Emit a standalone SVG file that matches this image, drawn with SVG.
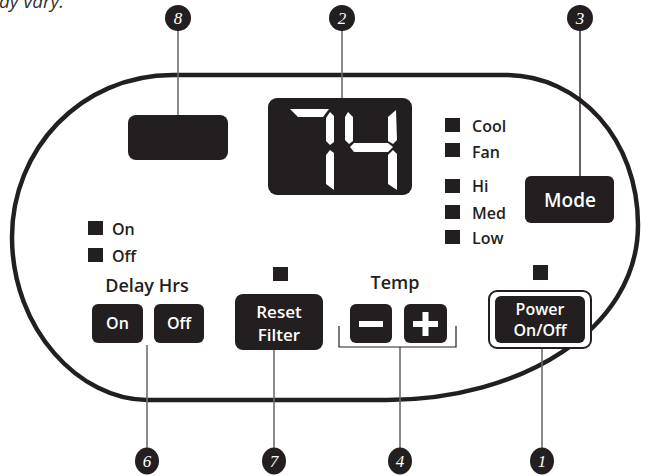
<svg xmlns="http://www.w3.org/2000/svg" width="646" height="476" viewBox="0 0 646 476">
<style>
.dk{fill:#231f20}
.lbl{font-family:"Open Sans","Noto Sans",sans-serif;font-weight:600;fill:#231f20}
.btn{font-family:"Open Sans","Noto Sans",sans-serif;font-weight:600;fill:#ffffff;text-anchor:middle}
.num{font-family:"Liberation Serif","DejaVu Serif",serif;font-style:italic;font-size:17px;fill:#ffffff;text-anchor:middle}
.lead{stroke:#6d6e70;stroke-width:1.6;fill:none}
.seg{fill:#ffffff}
</style>
<rect width="646" height="476" fill="#ffffff"/>
<text x="-1" y="8" font-family="Open Sans, sans-serif" font-style="italic" font-size="19" fill="#333">ay vary.</text>
<g id="panel">
<path d="M173,75 C80,75 12,150 12,237 C12,330 80,400 147,400 L387,400 C520,400 638,330 638,225 C638,140 580,75 505,75 Z" fill="none" stroke="#231f20" stroke-width="4.5"/>
</g>
<g id="connectors">
<line class="lead" x1="178" y1="30" x2="178" y2="128"/>
<line class="lead" x1="342" y1="30" x2="342" y2="105"/>
<line x1="580" y1="30" x2="580" y2="176" stroke="#231f20" stroke-width="1.4"/>
<line class="lead" x1="147" y1="345" x2="147" y2="448"/>
<line class="lead" x1="274" y1="350" x2="274" y2="448"/>
<line class="lead" x1="400" y1="347" x2="400" y2="448"/>
<line class="lead" x1="542" y1="348" x2="542" y2="448"/>
<path d="M339,326 V347 H456 V326" fill="none" stroke="#231f20" stroke-width="1.2"/>
</g>
<g id="callout-8"><circle class="dk" cx="178" cy="18" r="13"/><text class="num" x="178" y="24">8</text></g>
<g id="callout-2"><circle class="dk" cx="342" cy="18" r="13"/><text class="num" x="342" y="24">2</text></g>
<g id="callout-3"><circle class="dk" cx="580" cy="18" r="13"/><text class="num" x="580" y="24">3</text></g>
<g id="callout-6"><ellipse class="dk" cx="147" cy="461" rx="12" ry="13.5"/><text class="num" x="147" y="467">6</text></g>
<g id="callout-7"><ellipse class="dk" cx="274" cy="461" rx="12" ry="13.5"/><text class="num" x="274" y="467">7</text></g>
<g id="callout-4"><ellipse class="dk" cx="400" cy="461" rx="12" ry="13.5"/><text class="num" x="400" y="467">4</text></g>
<g id="callout-1"><ellipse class="dk" cx="542" cy="461" rx="12" ry="13.5"/><text class="num" x="542" y="467">1</text></g>
<g id="timer-display"><rect class="dk" x="128" y="115" width="100" height="45" rx="8"/></g>
<g id="temp-display">
<rect class="dk" x="268" y="98" width="144" height="97" rx="9"/>
<polygon class="seg" points="290,109 329,109 323,117 298,117"/>
<polygon class="seg" points="330,112 334,116 334,142 330,145 326,141 326,118"/>
<polygon class="seg" points="330,150 334,153 334,190 326,184 326,155"/>
<polygon class="seg" points="348,112 353,117 353,141 349,144 345,140 345,117"/>
<polygon class="seg" points="350,147 354,143 388,143 393,147 388,152 354,152"/>
<polygon class="seg" points="396,110 397,140 393,144 388,141 388,117"/>
<polygon class="seg" points="393,150 397,154 397,190 388,184 388,155"/>
</g>
<g id="mode-indicators">
<rect class="dk" x="445" y="118" width="15" height="14"/><text class="lbl" x="472" y="132" font-size="16">Cool</text>
<rect class="dk" x="445" y="143" width="15" height="14"/><text class="lbl" x="472" y="158" font-size="16">Fan</text>
<rect class="dk" x="445" y="179" width="15" height="14"/><text class="lbl" x="472" y="192" font-size="16">Hi</text>
<rect class="dk" x="445" y="205" width="15" height="14"/><text class="lbl" x="472" y="219" font-size="16">Med</text>
<rect class="dk" x="445" y="230" width="15" height="14"/><text class="lbl" x="472" y="244" font-size="16">Low</text>
</g>
<g id="mode-button"><rect class="dk" x="525" y="176" width="89" height="47" rx="6"/><text class="btn" x="570" y="207" font-size="19">Mode</text></g>
<g id="delay-indicators">
<rect class="dk" x="88" y="221" width="15" height="14"/><text class="lbl" x="112" y="235" font-size="16">On</text>
<rect class="dk" x="88" y="248" width="15" height="14"/><text class="lbl" x="112" y="262" font-size="16">Off</text>
<text class="lbl" x="147" y="292" font-size="18" text-anchor="middle">Delay Hrs</text>
</g>
<g id="delay-on"><rect class="dk" x="92" y="304" width="51" height="39" rx="6"/><text class="btn" x="117.5" y="329" font-size="16">On</text></g>
<g id="delay-off"><rect class="dk" x="154" y="304" width="50" height="39" rx="6"/><text class="btn" x="179" y="329" font-size="16">Off</text></g>
<g id="reset-filter">
<rect class="dk" x="273" y="267" width="15" height="14"/>
<rect class="dk" x="235" y="294" width="88" height="56" rx="8"/>
<text class="btn" x="279" y="318" font-size="17">Reset</text>
<text class="btn" x="279" y="341" font-size="17">Filter</text>
</g>
<g id="temp">
<text class="lbl" x="395" y="289" font-size="18" text-anchor="middle">Temp</text>
<rect class="dk" x="350" y="304" width="42" height="39" rx="6"/>
<rect fill="#fff" x="359" y="321" width="24" height="6"/>
<rect class="dk" x="404" y="304" width="43" height="39" rx="6"/>
<rect fill="#fff" x="413" y="321" width="25" height="6"/>
<rect fill="#fff" x="422.5" y="312" width="6" height="24"/>
</g>
<g id="power">
<rect class="dk" x="533" y="265" width="15" height="15"/>
<rect x="489" y="291" width="102" height="57" rx="8" fill="#fff" stroke="#231f20" stroke-width="2"/>
<rect class="dk" x="495" y="296" width="90" height="47" rx="6"/>
<text class="btn" x="540" y="315" font-size="16">Power</text>
<text class="btn" x="540" y="336" font-size="16">On/Off</text>
</g>
</svg>
